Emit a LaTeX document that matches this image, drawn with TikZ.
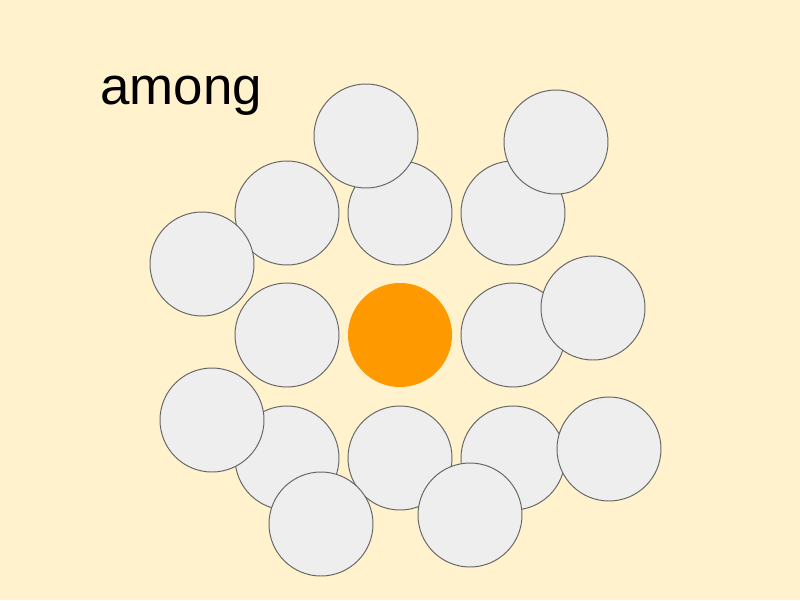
\documentclass[tikz,border=0pt]{standalone}
\usepackage{fontspec}
\setmainfont{Liberation Sans}
\usetikzlibrary{positioning}
\definecolor{paper}{HTML}{FFF2CC}
\definecolor{disc}{HTML}{EEEEEE}
\definecolor{rim}{HTML}{666666}
\definecolor{hilite}{HTML}{FF9900}
\begin{document}
\begin{tikzpicture}[x=0.25mm,y=-0.25mm,
    other/.style={circle,draw=rim,fill=disc,line width=0.7pt,minimum size=104*0.25mm,inner sep=0pt},
    self/.style={circle,fill=hilite,minimum size=104*0.25mm,inner sep=0pt}]
      \fill[paper] (0,0) rectangle (800,600);
      \useasboundingbox (0,0) rectangle (800,600);
      \node[anchor=base west,inner sep=0pt,font=\fontsize{37.6}{44}\selectfont] (word) at (100,104) {among};
      % the 3x3 block, orange one in the middle
      \foreach \r/\yy in {0/213,1/335,2/458}
        \foreach \c/\xx in {0/287,1/400,2/513}
          {\ifnum\r\c=11 \else \node[other] (g\r\c) at (\xx,\yy) {}; \fi}
      \node[self] (g11) at (400,335) {};
      % the loose ones on top
      \node[other] (top)      at (366,136) {};
      \node[other] (topright) at (556,142) {};
      \node[other] (left)     at (202,264) {};
      \node[other] (right)    at (593,308) {};
      \node[other] (lowleft)  at (212,420) {};
      \node[other] (lowright) at (609,449) {};
      \node[other] (botleft)  at (321,524) {};
      \node[other] (botmid)   at (470,515) {};
    \end{tikzpicture}
\end{document}
